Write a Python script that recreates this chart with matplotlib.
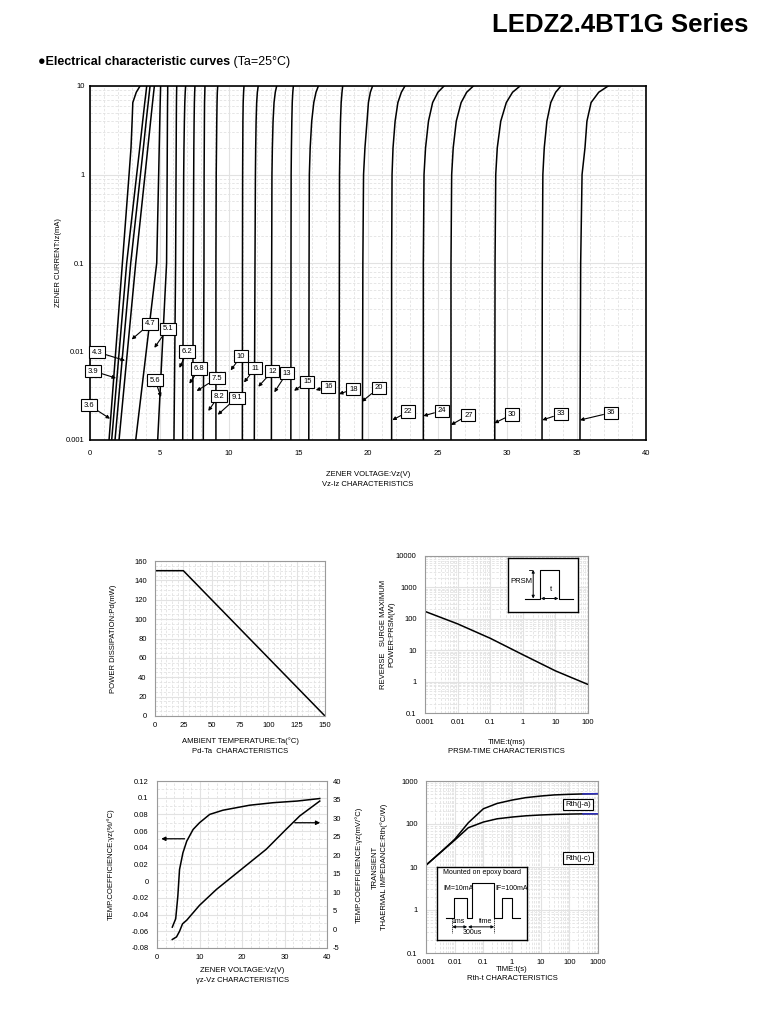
import matplotlib
matplotlib.use('Agg')
import matplotlib.pyplot as plt
from matplotlib.ticker import FuncFormatter, MultipleLocator, LogLocator, NullFormatter

plt.rcParams['font.family'] = ['Liberation Sans', 'DejaVu Sans']

# ---------------- Vz-Iz data (voltage at each current level) ----------------
iz_levels = [0.001, 0.1, 1, 2, 4, 6.5, 8.5, 10]
v3_6 = [1.37, 2.33, 2.81, 2.95, 3.03, 3.08, 3.33, 3.60]
v3_9 = [1.56, 2.64, 3.36, 3.58, 3.79, 3.94, 4.03, 4.08]
v4_3 = [1.80, 2.93, 3.63, 3.84, 4.04, 4.19, 4.27, 4.32]
v4_7 = [2.09, 3.29, 3.96, 4.16, 4.36, 4.50, 4.58, 4.63]
v5_1 = [3.29, 4.80, 4.94, 4.98, 5.02, 5.05, 5.07, 5.08]
v5_6 = [4.87, 5.51, 5.55, 5.56, 5.57, 5.58, 5.59, 5.59]
v6_2 = [6.04, 6.16, 6.19, 6.20, 6.21, 6.22, 6.23, 6.24]
v6_8 = [6.67, 6.71, 6.74, 6.76, 6.79, 6.82, 6.85, 6.88]
v7_5 = [7.39, 7.43, 7.46, 7.47, 7.49, 7.51, 7.53, 7.55]
v8_2 = [8.15, 8.20, 8.21, 8.22, 8.23, 8.24, 8.26, 8.27]
v9_1 = [9.06, 9.06, 9.08, 9.10, 9.12, 9.14, 9.16, 9.19]
v11 = [10.96, 10.97, 10.98, 10.99, 11.00, 11.02, 11.05, 11.08]
v12 = [11.82, 11.87, 11.90, 11.92, 11.95, 11.99, 12.04, 12.10]
v13 = [13.05, 13.07, 13.09, 13.12, 13.17, 13.24, 13.33, 13.43]
v15 = [14.45, 14.46, 14.47, 14.49, 14.52, 14.55, 14.59, 14.63]
v16 = [15.74, 15.76, 15.78, 15.84, 15.95, 16.10, 16.26, 16.43]
v18 = [17.92, 17.94, 17.95, 17.98, 18.02, 18.07, 18.13, 18.18]
v20 = [19.60, 19.63, 19.68, 19.78, 19.93, 20.03, 20.17, 20.33]
v22 = [21.70, 21.70, 21.73, 21.80, 21.95, 22.15, 22.40, 22.66]
v24 = [23.98, 23.98, 24.03, 24.14, 24.35, 24.65, 25.03, 25.47]
v27 = [25.97, 25.97, 26.02, 26.13, 26.35, 26.70, 27.10, 27.58]
v30 = [29.12, 29.14, 29.19, 29.30, 29.55, 29.95, 30.40, 30.94]
v33 = [32.52, 32.54, 32.58, 32.68, 32.87, 33.15, 33.50, 33.88]
v36 = [35.25, 35.30, 35.40, 35.61, 35.75, 36.05, 36.60, 37.28]
vz_curves = [v3_6, v3_9, v4_3, v4_7, v5_1, v5_6, v6_2, v6_8, v7_5, v8_2, v9_1,
             v11, v12, v13, v15, v16, v18, v20, v22, v24, v27, v30, v33, v36]

# curve labels: text, box position (V, mA), arrow tip (V, mA)
lbl_text = ['3.6', '3.9', '4.3', '4.7', '5.1', '5.6', '6.2', '6.8', '7.5', '8.2', '9.1', '10',
            '11', '12', '13', '15', '16', '18', '20', '22', '24', '27', '30', '33', '36']
lbl_box = [(-0.07, 0.00248), (0.24, 0.00602), (0.53, 0.00986), (4.32, 0.0206), (5.59, 0.0181),
           (4.68, 0.00473), (7.0, 0.0100), (7.87, 0.0064), (9.14, 0.0050), (9.26, 0.00314),
           (10.55, 0.0030), (10.86, 0.00883), (11.87, 0.00646), (13.12, 0.0060), (14.15, 0.00568),
           (15.63, 0.00456), (17.14, 0.0040), (18.94, 0.00374), (20.79, 0.0039), (22.9, 0.00209),
           (25.3, 0.00214), (27.22, 0.00191), (30.38, 0.00195), (33.86, 0.00197), (37.46, 0.00203)]
lbl_tip = [(1.44, 0.00174), (1.87, 0.0050), (2.52, 0.0079), (3.0, 0.0137), (4.63, 0.0110),
           (5.11, 0.00306), (6.43, 0.00652), (7.15, 0.00433), (7.67, 0.00358), (8.51, 0.00213),
           (9.19, 0.00193), (10.12, 0.00612), (11.08, 0.00447), (12.11, 0.0040), (13.26, 0.00346),
           (14.68, 0.0036), (16.24, 0.00367), (17.91, 0.00331), (19.55, 0.00271), (21.75, 0.00168),
           (23.98, 0.00187), (25.97, 0.00148), (29.09, 0.00155), (32.54, 0.00168), (35.25, 0.00168)]

# ---------------- Pd-Ta ----------------
ta_deg = [0, 25, 150]
pd_mw = [150, 150, 0]

# ---------------- PRSM-time ----------------
prsm_t = [0.001, 0.01, 0.1, 1, 10, 100]
prsm_w = [172, 69, 24, 7.2, 2.2, 0.81]

# ---------------- gamma z - Vz ----------------
gz_pct_v = [3.6, 4.4, 4.9, 5.3, 6.1, 7.0, 8.5, 10.0, 12.4, 15.5, 21.8, 27.3, 33.0, 38.3]
gz_pct = [-0.055, -0.045, -0.018, 0.014, 0.034, 0.048, 0.062, 0.070, 0.080, 0.085, 0.091, 0.094, 0.096, 0.099]
gz_mv_v = [3.6, 4.6, 5.3, 6.0, 7.0, 10.0, 14.0, 17.9, 21.8, 25.7, 30.4, 33.6, 38.3]
gz_mv = [-2.7, -2.0, -0.5, 1.5, 2.5, 6.5, 10.8, 14.4, 18.0, 21.6, 27.0, 30.6, 34.6]

# ---------------- Rth-t ----------------
rth_t = [0.001, 0.003, 0.01, 0.03, 0.1, 0.3, 1, 3, 10, 30, 100, 300, 1000]
rth_ja = [11, 21, 44, 107, 226, 300, 360, 410, 447, 475, 490, 500, 507]
rth_jc = [11, 21, 42, 82, 111, 132, 145, 155, 162, 167, 170, 172, 173]

W, H = 775, 1010
fig = plt.figure(figsize=(W / 100, H / 100), dpi=100)
fmt_g = FuncFormatter(lambda v, p: '%g' % v)
TICK_FS = 5.5
LBL_FS = 5.5


def px_axes(l, t, r, b):
    return fig.add_axes([l / W, 1 - b / H, (r - l) / W, (b - t) / H])


def style(ax, spine='#9a9a9a', lw=0.8):
    ax.set_axisbelow(True)
    ax.grid(which='major', color='#e2e2e2', lw=0.8, ls='-')
    ax.grid(which='minor', color='#e2e2e2', lw=0.6, ls=(0, (3, 2)))
    ax.tick_params(which='both', length=0, labelsize=TICK_FS, pad=4)
    for s in ax.spines.values():
        s.set_color(spine)
        s.set_linewidth(lw)


# ---------- page text ----------
bg = fig.add_axes([0, 0, 1, 1])
bg.axis('off')
bg.set_xlim(0, W)
bg.set_ylim(H, 0)
bg.text(748, 25, 'LEDZ2.4BT1G Series', ha='right', va='center', fontsize=18.5, fontweight='bold')
t1 = bg.text(38, 62, '\u25cfElectrical characteristic curves', ha='left', va='center', fontsize=9,
             fontweight='bold')
bg.annotate(' (Ta=25\u00b0C)', xy=(1, 0.5), xycoords=t1, ha='left', va='center', fontsize=9)

# ---------- Vz-Iz ----------
ax = px_axes(90, 86, 646, 440)
ax.set_yscale('log')
for v in vz_curves:
    ax.plot(v, iz_levels, color='black', lw=1.1)
ax.set_xlim(0, 40)
ax.set_ylim(0.001, 10)
ax.xaxis.set_major_locator(MultipleLocator(5))
ax.xaxis.set_minor_locator(MultipleLocator(1))
ax.yaxis.set_minor_locator(LogLocator(base=10, subs=range(2, 10)))
ax.yaxis.set_minor_formatter(NullFormatter())
ax.yaxis.set_major_formatter(fmt_g)
style(ax, spine='black', lw=1.2)
ax.tick_params(axis='x', pad=7)
for txt, box, tip in zip(lbl_text, lbl_box, lbl_tip):
    ax.annotate(txt, xy=tip, xytext=box, ha='center', va='center', fontsize=5.5, zorder=5,
                bbox=dict(boxstyle='square,pad=0.35', fc='white', ec='black', lw=0.8),
                arrowprops=dict(arrowstyle='-|>', color='black', lw=0.8, mutation_scale=5,
                                shrinkA=0, shrinkB=0))
ax.set_ylabel('ZENER CURRENT:Iz(mA)', fontsize=LBL_FS)
ax.yaxis.set_label_coords(-0.05, 0.5)
ax.set_xlabel('ZENER VOLTAGE:Vz(V)\nVz-Iz CHARACTERISTICS', fontsize=LBL_FS, linespacing=1.5)
ax.xaxis.set_label_coords(0.5, -0.088)

# ---------- Pd-Ta ----------
axa = px_axes(155, 561, 325, 716)
axa.plot(ta_deg, pd_mw, color='black', lw=1.1)
axa.set_xlim(0, 150)
axa.set_ylim(0, 160)
axa.xaxis.set_major_locator(MultipleLocator(25))
axa.xaxis.set_minor_locator(MultipleLocator(5))
axa.yaxis.set_major_locator(MultipleLocator(20))
axa.yaxis.set_minor_locator(MultipleLocator(5))
style(axa)
axa.tick_params(axis='y', pad=6)
axa.set_ylabel('POWER DISSIPATION:Pd(mW)', fontsize=LBL_FS)
axa.yaxis.set_label_coords(-0.224, 0.5)
axa.set_xlabel('AMBIENT TEMPERATURE:Ta(\u00b0C)\nPd-Ta  CHARACTERISTICS', fontsize=LBL_FS, linespacing=1.5)
axa.xaxis.set_label_coords(0.5, -0.14)

# ---------- PRSM-time ----------
axb = px_axes(425, 556, 588, 713)
axb.set_xscale('log')
axb.set_yscale('log')
axb.plot(prsm_t, prsm_w, color='black', lw=1.1)
axb.set_xlim(0.001, 100)
axb.set_ylim(0.1, 10000)
for a in (axb.xaxis, axb.yaxis):
    a.set_major_locator(LogLocator(base=10, numticks=12))
    a.set_minor_locator(LogLocator(base=10, subs=range(2, 10), numticks=12))
    a.set_minor_formatter(NullFormatter())
    a.set_major_formatter(fmt_g)
style(axb)
axb.tick_params(axis='y', pad=6)
axb.set_ylabel('REVERSE   SURGE MAXIMUM\nPOWER:PRSM(W)', fontsize=LBL_FS, linespacing=1.3)
axb.yaxis.set_label_coords(-0.18, 0.5)
axb.set_xlabel('TIME:t(ms)\nPRSM-TIME CHARACTERISTICS', fontsize=LBL_FS, linespacing=1.5)
axb.xaxis.set_label_coords(0.5, -0.165)

# inset pulse sketch
ins = px_axes(508, 558, 578, 612)
ins.set_xlim(0, 1)
ins.set_ylim(0, 1)
ins.set_xticks([])
ins.set_yticks([])
for s in ins.spines.values():
    s.set_linewidth(1.0)
ins.plot([0.24, 0.46, 0.46, 0.73, 0.73, 0.93], [0.25, 0.25, 0.78, 0.78, 0.25, 0.25], color='black', lw=0.8)
ins.plot([0.30, 0.34], [0.78, 0.78], color='black', lw=0.6)
ins.annotate('', xy=(0.36, 0.78), xytext=(0.36, 0.25),
             arrowprops=dict(arrowstyle='<|-|>', lw=0.7, mutation_scale=4, shrinkA=0, shrinkB=0))
ins.annotate('', xy=(0.47, 0.25), xytext=(0.72, 0.25),
             arrowprops=dict(arrowstyle='<|-|>', lw=0.7, mutation_scale=4, shrinkA=0, shrinkB=0))
ins.text(0.35, 0.56, 'PRSM', ha='right', va='center', fontsize=5.5)
ins.text(0.61, 0.42, 't', ha='center', va='center', fontsize=5.5)

# ---------- gamma z - Vz ----------
axc = px_axes(157, 781, 327, 948)
axc.plot(gz_pct_v, gz_pct, color='black', lw=1.1)
axc.set_xlim(0, 40)
axc.set_ylim(-0.08, 0.12)
axc.xaxis.set_major_locator(MultipleLocator(10))
axc.xaxis.set_minor_locator(MultipleLocator(2))
axc.yaxis.set_major_locator(MultipleLocator(0.02))
axc.yaxis.set_minor_locator(MultipleLocator(0.01))
axc.yaxis.set_major_formatter(fmt_g)
style(axc)
axc.tick_params(axis='y', pad=6)
axc2 = axc.twinx()
axc2.plot(gz_mv_v, gz_mv, color='black', lw=1.1)
axc2.set_ylim(-5, 40)
axc2.yaxis.set_major_locator(MultipleLocator(5))
axc2.yaxis.set_major_formatter(fmt_g)
axc2.tick_params(length=0, labelsize=TICK_FS, pad=4)
for s in axc2.spines.values():
    s.set_visible(False)
axc.annotate('', xy=(1.0, 0.0508), xytext=(6.5, 0.0508),
             arrowprops=dict(arrowstyle='-|>', color='black', lw=0.9, mutation_scale=6, shrinkA=0, shrinkB=0))
axc.annotate('', xy=(38.4, 0.070), xytext=(32.4, 0.070),
             arrowprops=dict(arrowstyle='-|>', color='black', lw=0.9, mutation_scale=6, shrinkA=0, shrinkB=0))
axc.set_ylabel('TEMP.COEFFICIENCE:\u03b3z(%/\u00b0C)', fontsize=LBL_FS)
axc.yaxis.set_label_coords(-0.247, 0.5)
axc2.set_ylabel('TEMP.COEFFICIENCE:\u03b3z(mV/\u00b0C)', fontsize=LBL_FS)
axc2.yaxis.set_label_coords(1.165, 0.5)
axc.set_xlabel('ZENER VOLTAGE:Vz(V)\n\u03b3z-Vz CHARACTERISTICS', fontsize=LBL_FS, linespacing=1.5)
axc.xaxis.set_label_coords(0.5, -0.115)

# ---------- Rth-t ----------
axd = px_axes(426, 781, 598, 953)
axd.set_xscale('log')
axd.set_yscale('log')
axd.plot(rth_t, rth_ja, color='black', lw=1.1)
axd.plot(rth_t, rth_jc, color='black', lw=1.1)
axd.plot(rth_t[-2:], rth_ja[-2:], color='#3030c0', lw=1.1)
axd.plot(rth_t[-2:], rth_jc[-2:], color='#3030c0', lw=1.1)
axd.set_xlim(0.001, 1000)
axd.set_ylim(0.1, 1000)
for a in (axd.xaxis, axd.yaxis):
    a.set_major_locator(LogLocator(base=10, numticks=12))
    a.set_minor_locator(LogLocator(base=10, subs=range(2, 10), numticks=12))
    a.set_minor_formatter(NullFormatter())
    a.set_major_formatter(fmt_g)
style(axd)
axd.tick_params(axis='y', pad=6)
box_kw = dict(boxstyle='square,pad=0.3', fc='white', ec='black', lw=0.8)
axd.text(0.884, 0.864, 'Rth(j-a)', transform=axd.transAxes, ha='center', va='center', fontsize=5.5, bbox=box_kw)
axd.text(0.884, 0.551, 'Rth(j-c)', transform=axd.transAxes, ha='center', va='center', fontsize=5.5, bbox=box_kw)
axd.set_ylabel('TRANSIENT\nTHAERMAL IMPEDANCE:Rth(\u00b0C/W)', fontsize=LBL_FS, linespacing=1.3)
axd.yaxis.set_label_coords(-0.22, 0.5)
axd.set_xlabel('TIME:t(s)\nRth-t CHARACTERISTICS', fontsize=LBL_FS, linespacing=1.5)
axd.xaxis.set_label_coords(0.5, -0.075)

# inset measurement sketch
ind = px_axes(437, 867, 527, 940)
ind.set_xlim(0, 1)
ind.set_ylim(0, 1)
ind.set_xticks([])
ind.set_yticks([])
for s in ind.spines.values():
    s.set_linewidth(1.0)
ind.plot([0.103, 0.185, 0.185, 0.333, 0.333, 0.389, 0.389, 0.63, 0.63, 0.722, 0.722, 0.833, 0.833, 0.926],
         [0.30, 0.30, 0.57, 0.57, 0.30, 0.30, 0.78, 0.78, 0.30, 0.30, 0.57, 0.57, 0.30, 0.30],
         color='black', lw=0.8)
ind.plot([0.167, 0.167], [0.30, 0.10], color='black', lw=0.5, ls=(0, (2, 1)))
ind.plot([0.637, 0.637], [0.30, 0.10], color='black', lw=0.5, ls=(0, (2, 1)))
ind.annotate('', xy=(0.17, 0.18), xytext=(0.335, 0.18),
             arrowprops=dict(arrowstyle='<|-|>', lw=0.7, mutation_scale=4, shrinkA=0, shrinkB=0))
ind.annotate('', xy=(0.345, 0.18), xytext=(0.635, 0.18),
             arrowprops=dict(arrowstyle='<|-|>', lw=0.7, mutation_scale=4, shrinkA=0, shrinkB=0))
ind.text(0.067, 0.92, 'Mounted on epoxy board', ha='left', va='center', fontsize=5)
ind.text(0.067, 0.70, 'IM=10mA', ha='left', va='center', fontsize=5)
ind.text(0.65, 0.70, 'IF=100mA', ha='left', va='center', fontsize=5)
ind.text(0.24, 0.26, '1ms', ha='center', va='center', fontsize=5)
ind.text(0.54, 0.26, 'time', ha='center', va='center', fontsize=5)
ind.text(0.39, 0.10, '300us', ha='center', va='center', fontsize=5)

fig.savefig('out.png', dpi=100, facecolor='white')
